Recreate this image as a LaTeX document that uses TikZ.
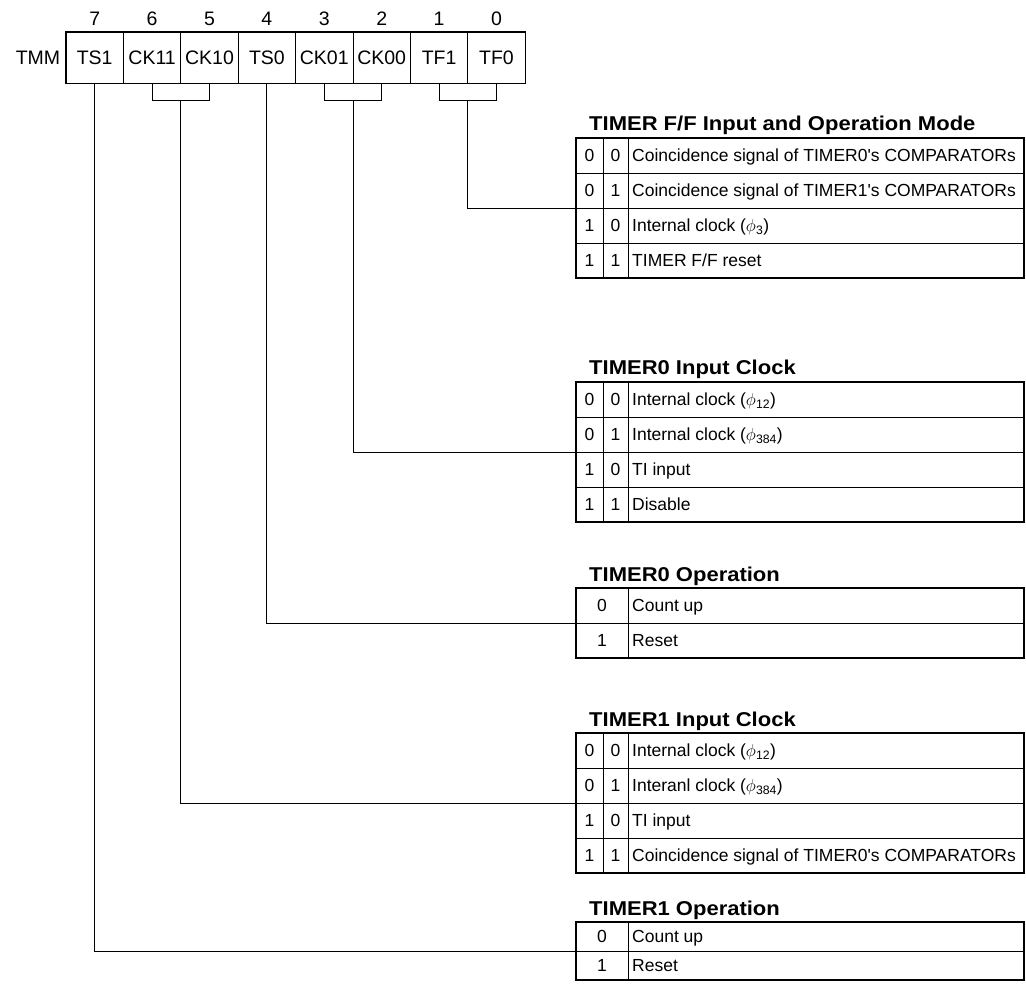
\documentclass[tikz,border=0pt]{standalone}
\usepackage{fontspec}
\setmainfont{Liberation Sans}
\newfontfamily\headfont{Liberation Sans}[FakeStretch=1.1]
\usetikzlibrary{calc}

\begin{document}
\begin{tikzpicture}[x=1pt,y=-1pt,
  thickline/.style={line width=1.6pt},
  thinline/.style={line width=0.8pt},
  link/.style={line width=0.9pt},
  regcell/.style={draw, line width=0.8pt, minimum width=57.4pt, minimum height=51pt,
    inner sep=0pt, text height=14pt, text depth=0pt, font=\fontsize{19.5}{19.5}\selectfont},
  bitnum/.style={inner sep=0pt, text height=14pt, text depth=0pt, font=\fontsize{19.5}{19.5}\selectfont},
  tblframe/.style={draw, line width=1.6pt, minimum width=448pt, inner sep=0pt},
  celltxt/.style={inner sep=0pt, text height=12.6pt, text depth=0pt, font=\fontsize{17.5}{17.5}\selectfont},
  rowtxt/.style={celltxt, anchor=west},
  tbltitle/.style={anchor=base west, inner sep=0pt,
    font=\headfont\bfseries\fontsize{20}{20}\selectfont},
]
\useasboundingbox (0,0) rectangle (1026,992);

% ---- TMM register ----
\node[bitnum] (tmm) at (38,57.5) {TMM};
\foreach \lbl [count=\k from 0] in {TS1,CK11,CK10,TS0,CK01,CK00,TF1,TF0} {
  \pgfmathtruncatemacro\bit{7-\k}
  \node[regcell] (r\bit) at ({66+57.4*(\k+0.5)},57.5) {\lbl};
  \node[bitnum] (n\bit) at ({66+57.4*(\k+0.5)},19) {\bit};
}
\draw[thickline] (r7.north west) rectangle (r0.south east);

% ---- brackets joining two-bit fields ----
\draw[link] (r6.south) -- ++(0,17) -| (r5.south);
\draw[link] (r3.south) -- ++(0,17) -| (r2.south);
\draw[link] (r1.south) -- ++(0,17) -| (r0.south);
\coordinate (ck1) at ($(r6.south)!0.5!(r5.south)+(0,17)$);
\coordinate (ck0) at ($(r3.south)!0.5!(r2.south)+(0,17)$);
\coordinate (tf)  at ($(r1.south)!0.5!(r0.south)+(0,17)$);

% ---- TIMER F/F table ----
\node[tbltitle] (h1) at (589,131) {TIMER F/F Input and Operation Mode};
\node[tblframe, minimum height=140pt] (t1) at (800,208) {};
\draw[thinline] (603,138) -- (603,278) (628,138) -- (628,278);
\foreach \yy in {173,208,243} \draw[thinline] (576,\yy) -- (1024,\yy);
\foreach \a/\b/\txt [count=\i from 0] in {
  0/0/{Coincidence signal of TIMER0\textquotesingle s COMPARATORs},
  0/1/{Coincidence signal of TIMER1\textquotesingle s COMPARATORs},
  1/0/{Internal clock ($\phi$\textsubscript{3})},
  1/1/{TIMER F/F reset}} {
  \node[celltxt] (t1a\i) at (589.5,{155.5+35*\i}) {\a};
  \node[celltxt] (t1b\i) at (615.5,{155.5+35*\i}) {\b};
  \node[rowtxt]  (t1c\i) at (632,{155.5+35*\i}) {\txt};
}

% ---- TIMER0 input clock table ----
\node[tbltitle] (h2) at (589,375) {TIMER0 Input Clock};
\node[tblframe, minimum height=140pt] (t2) at (800,452) {};
\draw[thinline] (603,382) -- (603,522) (628,382) -- (628,522);
\foreach \yy in {417,452,487} \draw[thinline] (576,\yy) -- (1024,\yy);
\foreach \a/\b/\txt [count=\i from 0] in {
  0/0/{Internal clock ($\phi$\textsubscript{12})},
  0/1/{Internal clock ($\phi$\textsubscript{384})},
  1/0/{TI input},
  1/1/{Disable}} {
  \node[celltxt] (t2a\i) at (589.5,{399.5+35*\i}) {\a};
  \node[celltxt] (t2b\i) at (615.5,{399.5+35*\i}) {\b};
  \node[rowtxt]  (t2c\i) at (632,{399.5+35*\i}) {\txt};
}

% ---- TIMER0 operation table ----
\node[tbltitle] (h3) at (589,581) {TIMER0 Operation};
\node[tblframe, minimum height=70pt] (t3) at (800,623) {};
\draw[thinline] (628,588) -- (628,658) (576,623) -- (1024,623);
\node[celltxt] (t3a0) at (602,605.5) {0};
\node[rowtxt]  (t3c0) at (632,605.5) {Count up};
\node[celltxt] (t3a1) at (602,640.5) {1};
\node[rowtxt]  (t3c1) at (632,640.5) {Reset};

% ---- TIMER1 input clock table ----
\node[tbltitle] (h4) at (589,726) {TIMER1 Input Clock};
\node[tblframe, minimum height=140pt] (t4) at (800,803) {};
\draw[thinline] (603,733) -- (603,873) (628,733) -- (628,873);
\foreach \yy in {768,803,838} \draw[thinline] (576,\yy) -- (1024,\yy);
\foreach \a/\b/\txt [count=\i from 0] in {
  0/0/{Internal clock ($\phi$\textsubscript{12})},
  0/1/{Interanl clock ($\phi$\textsubscript{384})},
  1/0/{TI input},
  1/1/{Coincidence signal of TIMER0\textquotesingle s COMPARATORs}} {
  \node[celltxt] (t4a\i) at (589.5,{750.5+35*\i}) {\a};
  \node[celltxt] (t4b\i) at (615.5,{750.5+35*\i}) {\b};
  \node[rowtxt]  (t4c\i) at (632,{750.5+35*\i}) {\txt};
}

% ---- TIMER1 operation table ----
\node[tbltitle] (h5) at (589,915) {TIMER1 Operation};
\node[tblframe, minimum height=58pt] (t5) at (800,951) {};
\draw[thinline] (628,922) -- (628,980) (576,951) -- (1024,951);
\node[celltxt] (t5a0) at (602,936.5) {0};
\node[rowtxt]  (t5c0) at (632,936.5) {Count up};
\node[celltxt] (t5a1) at (602,965.5) {1};
\node[rowtxt]  (t5c1) at (632,965.5) {Reset};

% ---- field lines to their tables ----
\draw[link] (tf)  |- (t1.west);
\draw[link] (ck0) |- (t2.west);
\draw[link] (r4.south) |- (t3.west);
\draw[link] (ck1) |- (t4.west);
\draw[link] (r7.south) |- (t5.west);
\end{tikzpicture}
\end{document}
